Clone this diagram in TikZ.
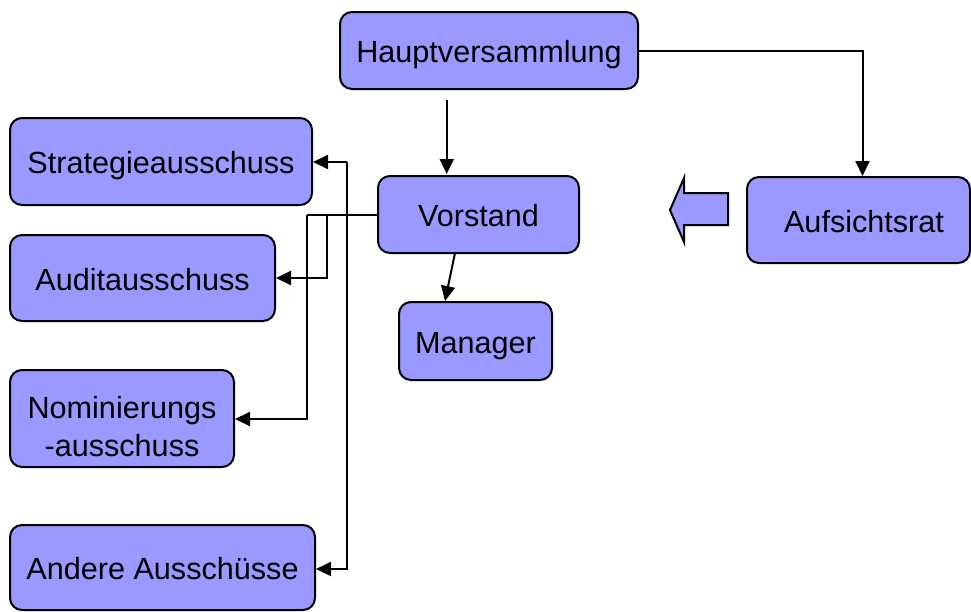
\documentclass[tikz,border=0pt]{standalone}
\usepackage{fontspec}
\setmainfont{Liberation Sans}
\usetikzlibrary{arrows.meta}
\definecolor{boxfill}{RGB}{153,153,255}
\begin{document}
\begin{tikzpicture}[x=1pt,y=-1pt,
  box/.style={draw=black, line width=2pt, fill=boxfill, rounded corners=12pt, inner sep=0pt,
    font=\fontsize{30.6}{38}\selectfont, text height=24.4pt, text depth=0pt},
  twoline/.style={box, text height=35.7pt, text depth=0pt},
  conn/.style={line width=2pt, -{Triangle[length=15pt,width=14pt]}},
  plain/.style={line width=2pt}]
\useasboundingbox (0,0) rectangle (971,611);
\begin{scope}
\clip (0,0) rectangle (971,611);
\node[box, minimum width=298pt, minimum height=77pt] (hv) at (489,50.5) {Hauptversammlung};
\node[box, minimum width=302pt, minimum height=87pt] (sa) at (161,161.5) {Strategieausschuss};
\node[box, minimum width=201pt, minimum height=77pt] (vs) at (478.5,214.5) {Vorstand};
\node[box, minimum width=223pt, minimum height=86pt] (ar) at (858.5,220) {\hspace*{11pt}Aufsichtsrat};
\node[box, minimum width=265pt, minimum height=86pt] (aa) at (142.5,278) {Auditausschuss};
\node[box, minimum width=153pt, minimum height=78pt] (mg) at (475.5,341) {Manager};
\node[twoline, minimum width=224pt, minimum height=97pt] (na) at (122,418.5)
  {\begin{tabular}{@{}c@{}}Nominierungs\\-ausschuss\end{tabular}};
\node[box, minimum width=305pt, minimum height=85pt] (an) at (162.5,567.5) {Andere Ausschüsse};
\end{scope}
% Hauptversammlung -> Aufsichtsrat
\draw[conn] (hv.east) -| (ar.north -| 862.5,0);
% Hauptversammlung -> Vorstand
\coordinate (hvs) at (446.7,100);
\coordinate (vst) at (446.7,174);
\draw[conn] (hvs) -- (vst);
% Vorstand -> Manager
\coordinate (vsb) at (455,253);
\coordinate (mgt) at (445,301);
\draw[conn] (vsb) -- (mgt);
% Vorstand -> committees
\coordinate (j1) at (306.7,215);
\draw[plain] (vs.west |- 0,215) -- (j1);
\draw[conn] (j1) |- (na.east |- 0,419);
\draw[conn] (327,215) |- (aa.east |- 0,278);
\draw[conn] (346.7,162) -- (346.7,569) -- (an.east |- 0,569);
\draw[conn] (346.7,162) -- (sa.east |- 0,162);
% block arrow
\draw[line width=2pt, fill=boxfill, line join=miter]
  (670,210) -- (684,178) -- (684,193) -- (728,193) -- (728,225) -- (684,225) -- (684,242) -- cycle;
\end{tikzpicture}
\end{document}
